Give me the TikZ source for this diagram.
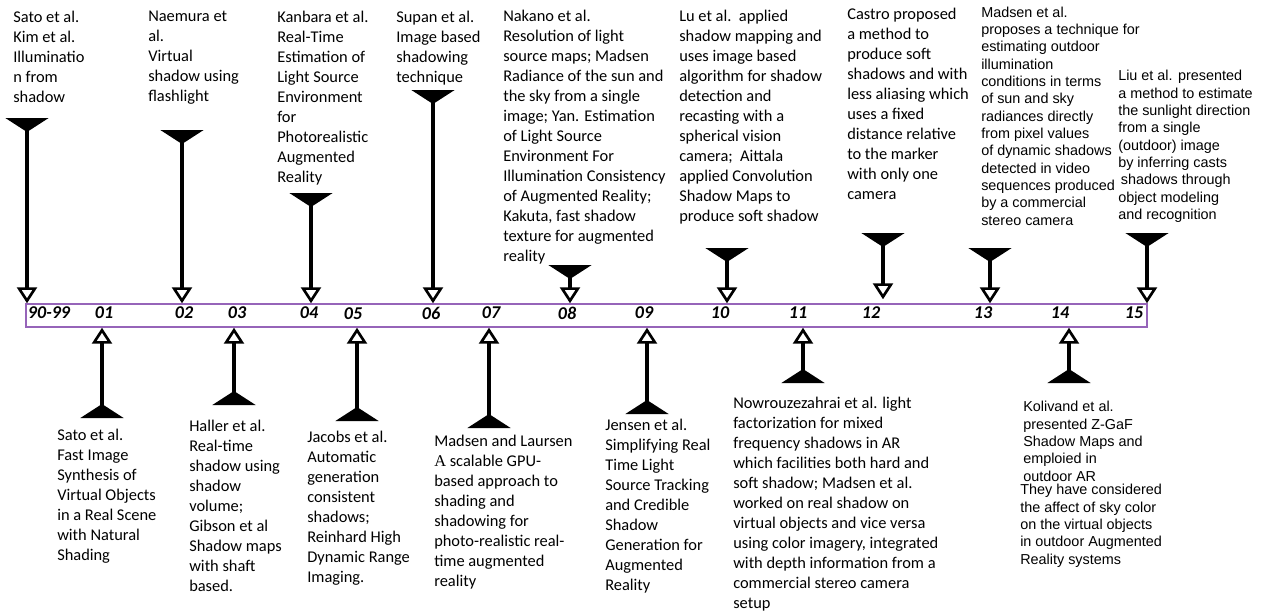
\documentclass[tikz,border=0pt]{standalone}
\usepackage{fontspec}
\setmainfont{Carlito}
\newfontfamily\arialfont{Liberation Sans}
\newfontfamily\timesfont{Liberation Serif}
\usetikzlibrary{arrows.meta,positioning}
\definecolor{barpurple}{RGB}{150,100,185}
\tikzset{
  %Define style for text blocks
  note/.style={
    anchor=north west,
    inner sep=0pt,
    align=left,
    font=\fontsize{12.3pt}{15pt}\selectfont},
  anote/.style={
    note,
    font=\arialfont\fontsize{10.8pt}{13pt}\selectfont},
  % Define style for year labels
  yr/.style={
    inner sep=0pt,
    font=\fontsize{13.5pt}{15pt}\selectfont\bfseries\itshape},
  % Define arrow style
  downarr/.style={
    line width=3pt,
    arrows={Triangle[reversed,width=32pt,length=10.5pt]-Triangle[open,width=15pt,length=12pt,line width=2pt]}},
  uparr/.style={downarr}
}

\begin{document}
\begin{tikzpicture}[x=0.75pt,y=-0.75pt]
  \useasboundingbox (0,0) rectangle (1265,612);
  % timeline bar
  \node[draw=barpurple, line width=1.1pt, minimum width=840.75pt, minimum height=17.25pt, inner sep=0pt] (bar) at (586.5,315.5) {};
  \node[yr] (y9099) at (49,313) {90-99};
  \node[yr] (y01) at (104,313) {01};
  \node[yr] (y02) at (184,313) {02};
  \node[yr] (y03) at (237,313) {03};
  \node[yr] (y04) at (309,313) {04};
  \node[yr] (y05) at (353,314) {05};
  \node[yr] (y06) at (431,313) {06};
  \node[yr] (y07) at (491,313) {07};
  \node[yr] (y08) at (567,313) {08};
  \node[yr] (y09) at (644,313) {09};
  \node[yr] (y10) at (720,313) {10};
  \node[yr] (y11) at (798,313) {11};
  \node[yr] (y12) at (871,313) {12};
  \node[yr] (y13) at (983,313) {13};
  \node[yr] (y14) at (1060,313) {14};
  \node[yr] (y15) at (1134,313) {15};

  % upper notes
  \node[note] (sato) at (13,11) {Sato et al.\\Kim et al.\\Illuminatio\\n from\\shadow};
  \node[note] (naemura) at (148,11) {Naemura et\\al.\\Virtual\\shadow using\\flashlight};
  \node[note] (kanbara) at (277,11) {Kanbara et al.\\Real-Time\\Estimation of\\Light Source\\Environment\\for\\Photorealistic\\Augmented\\Reality};
  \node[note] (supan) at (396,11) {Supan et al.\\Image based\\shadowing\\technique};
  \node[note] (nakano) at (503,10) {Nakano et al.\\Resolution of light\\source maps; Madsen\\Radiance of the sun and\\the sky from a single\\image;  Yan. Estimation\\of Light Source\\Environment For\\Illumination Consistency\\of Augmented Reality;\\Kakuta, fast shadow\\texture for augmented\\reality};
  \node[note] (lu) at (679,10) {Lu et al.\ \ applied\\shadow mapping and\\uses image based\\algorithm for shadow\\detection and\\recasting with a\\spherical vision\\camera;\ \ Aittala\\applied Convolution\\Shadow Maps to\\produce soft shadow};
  \node[note] (castro) at (847,8) {Castro proposed\\a method to\\produce soft\\shadows and with\\less aliasing which\\uses a fixed\\distance relative\\to the marker\\with only one\\camera};
  \node[anote] (madsen) at (981,6.5) {Madsen et al.\\proposes a technique for\\estimating outdoor\\illumination\\conditions in terms\\of sun and sky\\radiances directly\\from pixel values\\of dynamic shadows\\detected in video\\sequences produced\\by a commercial\\stereo camera};
  \node[anote] (liu) at (1118,70) {Liu et al. presented\\a method to estimate\\the sunlight direction\\from a single\\(outdoor) image\\by inferring casts\\\hspace{2pt}shadows through\\object modeling\\and recognition};

  % lower notes
  \node[note] (satob) at (57,429) {Sato et al.\\Fast Image\\Synthesis of\\Virtual Objects\\in a Real Scene\\with Natural\\Shading};
  \node[note] (haller) at (189,420) {Haller et al.\\Real-time\\shadow using\\shadow\\volume;\\Gibson et al\\Shadow maps\\with shaft\\based.};
  \node[note] (jacobs) at (307,431) {Jacobs et al.\\Automatic\\generation\\consistent\\shadows;\\Reinhard High\\Dynamic Range\\Imaging.};
  \node[note] (laursen) at (434,435) {Madsen and Laursen\\{\timesfont A} scalable GPU-\\based approach to\\shading and\\shadowing for\\photo-realistic real-\\time augmented\\reality};
  \node[note] (jensen) at (605,419) {Jensen et al.\\Simplifying Real\\Time Light\\Source Tracking\\and Credible\\Shadow\\Generation for\\Augmented\\Reality};
  \node[note] (nowrouz) at (733,397) {Nowrouzezahrai et al. light\\factorization for mixed\\frequency shadows in AR\\which facilities both hard and\\soft shadow; Madsen et al.\\worked on real shadow on\\virtual objects and vice versa\\using color imagery, integrated\\with depth information from a\\commercial stereo camera\\setup};
  \node[anote] (kolivand) at (1023,401) {Kolivand et al.\\presented Z-GaF\\Shadow Maps and\\emploied in\\outdoor AR};
  \node[anote] (kolivandb) at (1020,484) {They have considered\\the affect of sky color\\on the virtual objects\\in outdoor Augmented\\Reality systems};

  % arrow tails
  \coordinate (t9099) at (27,118);
  \coordinate (t02) at (182,130);
  \coordinate (t04) at (311,193);
  \coordinate (t06) at (433,90);
  \coordinate (t08) at (570,265);
  \coordinate (t10) at (727,248);
  \coordinate (t12) at (883,233);
  \coordinate (t13) at (990,248);
  \coordinate (t15) at (1147,233);
  \coordinate (b01) at (102,418);
  \coordinate (b03) at (234,405);
  \coordinate (b05) at (357,421);
  \coordinate (b07) at (489,428);
  \coordinate (b09) at (647,414);
  \coordinate (b11) at (803,383);
  \coordinate (b14) at (1069,383);

  \path[downarr]
  (t9099) edge (t9099 |- bar.north)
  (t02) edge (t02 |- bar.north)
  (t04) edge (t04 |- bar.north)
  (t06) edge (t06 |- bar.north)
  (t08) edge (t08 |- bar.north)
  (t10) edge (t10 |- bar.north)
  (t12) edge[shorten >=3pt] (t12 |- bar.north)
  (t13) edge (t13 |- bar.north)
  (t15) edge (t15 |- bar.north)
  ;
  \path[uparr]
  (b01) edge (b01 |- bar.south)
  (b03) edge (b03 |- bar.south)
  (b05) edge (b05 |- bar.south)
  (b07) edge (b07 |- bar.south)
  (b09) edge (b09 |- bar.south)
  (b11) edge (b11 |- bar.south)
  (b14) edge (b14 |- bar.south)
  ;
\end{tikzpicture}
\end{document}
